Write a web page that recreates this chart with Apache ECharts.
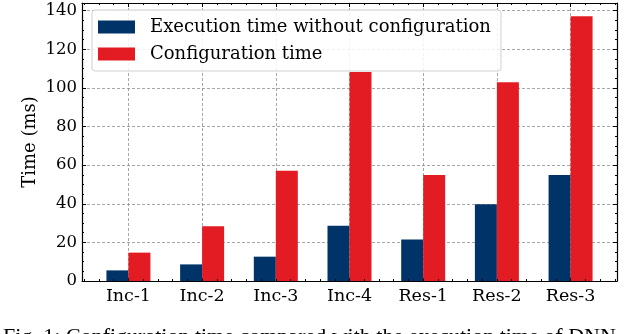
<!DOCTYPE html>
<html>
<head>
<meta charset="utf-8">
<script src="https://cdn.jsdelivr.net/npm/echarts@6/dist/echarts.min.js"></script>
<style>
  html, body { margin: 0; padding: 0; background: #fff; }
  #chart { width: 640px; height: 334px; }
</style>
</head>
<body>
<div id="chart"></div>
<script>
// data
const categories = ['Inc-1', 'Inc-2', 'Inc-3', 'Inc-4', 'Res-1', 'Res-2', 'Res-3'];
const execTime = [5.5, 8.6, 12.6, 28.6, 21.5, 39.7, 54.9];
const configTime = [14.7, 28.4, 57.1, 108.2, 54.9, 102.9, 137.1];
const seriesNames = ['Execution time without configuration', 'Configuration time'];
const yTickLabels = [0, 20, 40, 60, 80, 100, 120, 140];
const captionText = 'Fig. 1: Configuration time compared with the execution time of DNN';

const FONT = 'DejaVu Serif';
const X_MIN = -0.63, X_MAX = 6.63;
const Y_MIN = 0, Y_MAX = 144;

function steps(from, to, step) {
    var out = [];
    for (var v = from; v <= to + 1e-9; v += step) out.push(Math.round(v * 100) / 100);
    return out;
}
const xMajor = categories.map(function (c, i) { return i; });
const xMinor = steps(-0.6, 6.6, 0.2);
const yMinor = steps(0, 140, 5);

var chart = echarts.init(document.getElementById('chart'));

const gridBox = { left: 82, right: 23, top: 3, bottom: 53, outerBoundsMode: 'none' };
const tickStyle = { color: '#000', width: 1 };
const dashed = { color: '#8f8f8f', width: 0.8, type: [3, 2] };

function majorX(pos, withLabels) {
    return {
        type: 'value', gridIndex: 0, position: pos, min: X_MIN, max: X_MAX, splitNumber: 7, z: 0,
        axisLine: { show: false, onZero: false },
        axisTick: { show: true, inside: true, length: 4, customValues: xMajor, lineStyle: tickStyle },
        axisLabel: {
            show: withLabels, customValues: xMajor, margin: 6,
            fontFamily: FONT, fontSize: 17.5, color: '#000',
            formatter: function (v) { return categories[Math.round(v)] || ''; }
        },
        splitLine: { show: withLabels, lineStyle: dashed }
    };
}
function minorX(pos) {
    return {
        type: 'value', gridIndex: 1, position: pos, min: X_MIN, max: X_MAX, z: 10,
        axisLine: { show: true, onZero: false, lineStyle: { color: '#000', width: 1.2 } },
        axisTick: { show: true, inside: true, length: 2, customValues: xMinor, lineStyle: tickStyle },
        axisLabel: { show: false },
        splitLine: { show: false }
    };
}
function majorY(pos, withLabels) {
    var ax = {
        type: 'value', gridIndex: 0, position: pos, min: Y_MIN, max: Y_MAX, splitNumber: 7, z: 0,
        axisLine: { show: false, onZero: false },
        axisTick: { show: true, inside: true, length: 4, customValues: yTickLabels, lineStyle: tickStyle },
        axisLabel: { show: withLabels, customValues: yTickLabels, margin: 5, fontFamily: FONT, fontSize: 16.5, color: '#000' },
        splitLine: { show: withLabels, lineStyle: dashed }
    };
    if (withLabels) {
        ax.name = 'Time (ms)';
        ax.nameLocation = 'middle';
        ax.nameGap = 43;
        ax.nameMoveOverlap = false;
        ax.nameTextStyle = { fontFamily: FONT, fontSize: 18, color: '#000' };
    }
    return ax;
}
function minorY(pos) {
    return {
        type: 'value', gridIndex: 1, position: pos, min: Y_MIN, max: Y_MAX, z: 10,
        axisLine: { show: true, onZero: false, lineStyle: { color: '#000', width: 1.2 } },
        axisTick: { show: true, inside: true, length: 2, customValues: yMinor, lineStyle: tickStyle },
        axisLabel: { show: false },
        splitLine: { show: false }
    };
}

var options = {
    animation: false,
    grid: [gridBox, Object.assign({}, gridBox)],
    xAxis: [majorX('bottom', true), majorX('top', false), minorX('bottom'), minorX('top')],
    yAxis: [majorY('left', true), majorY('right', false), minorY('left'), minorY('right')],
    legend: {
        orient: 'vertical', left: 92, top: 10,
        icon: 'rect', itemWidth: 37, itemHeight: 13, itemGap: 9,
        padding: [8, 10, 8, 6],
        backgroundColor: 'rgba(255,255,255,0.85)',
        borderColor: '#cfcfcf', borderWidth: 1, borderRadius: 3,
        textStyle: { fontFamily: FONT, fontSize: 18, color: '#000', padding: [0, 0, 0, 10] },
        data: seriesNames
    },
    series: [
        {
            name: seriesNames[0], type: 'bar', xAxisIndex: 0, yAxisIndex: 0,
            barWidth: 22, barGap: '0%',
            itemStyle: { color: '#003468' },
            data: execTime.map(function (v, i) { return [i, v]; })
        },
        {
            name: seriesNames[1], type: 'bar', xAxisIndex: 0, yAxisIndex: 0,
            barWidth: 22, barGap: '0%',
            itemStyle: { color: '#E31B23' },
            data: configTime.map(function (v, i) { return [i, v]; })
        }
    ],
    graphic: [{
        type: 'text', left: 3, top: 326,
        style: { text: captionText, font: '22px "Liberation Serif"', fill: '#000' }
    }]
};
chart.setOption(options, true);
</script>
</body>
</html>
